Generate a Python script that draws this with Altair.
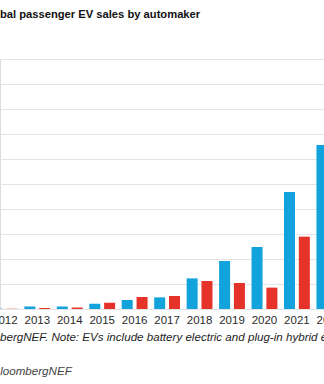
import altair as alt
import pandas as pd

# Data (thousand vehicles)
years = ["2012", "2013", "2014", "2015", "2016", "2017", "2018", "2019", "2020", "2021", "2022"]
blue_vals = [3, 20, 20, 42, 72, 93, 245, 384, 496, 936, 1312]
red_vals = [2, 8, 12, 50, 96, 104, 224, 208, 171, 579, None]
series = ["Tesla", "BYD"]
colors = ["#13a3dc", "#e5332a"]
grid_values = [0, 200, 400, 600, 800, 1000, 1200, 1400, 1600, 1800, 2000]

title_text = "Global passenger EV sales by automaker"
note_text = "Source: BloombergNEF. Note: EVs include battery electric and plug-in hybrid electric vehicles."
logo_text = "BloombergNEF"

rows = []
for y, b, r in zip(years, blue_vals, red_vals):
    rows.append({"year": y, "maker": series[0], "sales": b})
    if r is not None:
        rows.append({"year": y, "maker": series[1], "sales": r})
df = pd.DataFrame(rows)

FONT = "Liberation Sans"

bars = alt.Chart(df).mark_bar().encode(
    x=alt.X(
        "year:N",
        sort=years,
        scale=alt.Scale(range=[-11.4, 345.6], paddingInner=0.2034, paddingOuter=0.1017),
        axis=alt.Axis(
            title=None, ticks=False, domain=False, grid=False, labelAngle=0,
            labelFont=FONT, labelFontSize=11.5, labelColor="#2a2a2a", labelPadding=5.5,
            labelOverlap=False,
        ),
    ),
    xOffset=alt.XOffset("maker:N", sort=series, scale=alt.Scale(paddingInner=0.259, paddingOuter=0)),
    y=alt.Y(
        "sales:Q",
        scale=alt.Scale(domain=[0, 2000], nice=False),
        axis=alt.Axis(
            title=None, labels=False, ticks=False, domain=False, grid=True,
            values=grid_values, gridColor="#e4e4e4", gridWidth=1,
        ),
    ),
    color=alt.Color("maker:N", sort=series, scale=alt.Scale(domain=series, range=colors), legend=None),
)

title = alt.Chart(pd.DataFrame({"t": [title_text]})).mark_text(
    align="left", baseline="alphabetic", font=FONT, fontSize=11.2, fontWeight="bold", color="#111111"
).encode(x=alt.value(-18.7), y=alt.value(-41.5), text="t:N")

note = alt.Chart(pd.DataFrame({"t": [note_text]})).mark_text(
    align="left", baseline="alphabetic", font=FONT, fontSize=11.6, fontStyle="italic", color="#1e1e1e"
).encode(x=alt.value(-76), y=alt.value(282), text="t:N")

logo = alt.Chart(pd.DataFrame({"t": [logo_text]})).mark_text(
    align="left", baseline="alphabetic", font=FONT, fontSize=11.6, fontStyle="italic", color="#444444"
).encode(x=alt.value(-7.5), y=alt.value(315.5), text="t:N")

chart = alt.layer(bars, title, note, logo).properties(
    width=324,
    height=250,
    autosize=alt.AutoSizeParams(type="none"),
    padding={"left": 0, "top": 59, "right": 0, "bottom": 75},
).configure_view(stroke=None).configure(background="white")

chart.save("out.html", embed_options={"renderer": "svg", "actions": False})
